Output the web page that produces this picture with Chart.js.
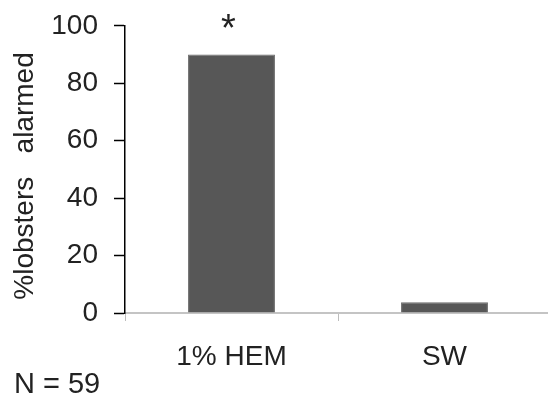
<!DOCTYPE html>
<html>
<head>
<meta charset="utf-8">
<script src="https://cdn.jsdelivr.net/npm/chart.js@4/dist/chart.umd.min.js"></script>
<style>
  html, body { margin: 0; padding: 0; background: #fff; overflow: hidden; }
  #wrap { width: 552px; height: 402px; }
</style>
</head>
<body>
<div id="wrap"><canvas id="lobsterChart" width="552" height="402"></canvas></div>
<script>
// data
const categories = ["1% HEM", "SW"];
const pctAlarmed = [90, 3.7];
const yTicks = [0, 20, 40, 60, 80, 100];
const yTitle = "%lobsters   alarmed";
const sampleNote = "N = 59";
const sigMarks = ["*", ""];

const textColor = "#222222";
const fontFamily = "'Liberation Sans', Arial, sans-serif";

// extra text: y title, N note, asterisk
const annotations = {
    id: "annotations",
    afterDraw(chart) {
        const ctx = chart.ctx;
        const xs = chart.scales.x;
        const ys = chart.scales.y;
        ctx.save();
        ctx.fillStyle = textColor;

        // rotated y title
        ctx.font = "28px " + fontFamily;
        ctx.translate(33, 176);
        ctx.rotate(-Math.PI / 2);
        ctx.textAlign = "center";
        ctx.textBaseline = "alphabetic";
        ctx.fillText(yTitle, 0, 0);
        ctx.setTransform(1, 0, 0, 1, 0, 0);

        // N note
        ctx.font = "29px " + fontFamily;
        ctx.textAlign = "left";
        ctx.fillText(sampleNote, 14, 393);

        // significance marks
        ctx.font = "38px " + fontFamily;
        ctx.textAlign = "center";
        sigMarks.forEach((m, i) => {
            if (!m) return;
            const x = xs.getPixelForValue(i) - 3;
            const y = ys.getPixelForValue(pctAlarmed[i]) - 14;
            ctx.fillText(m, x, y);
        });
        ctx.restore();
    }
};

let ctx1 = document.getElementById("lobsterChart");
let myChart = new Chart(ctx1, {
    type: "bar",
    data: {
        labels: categories,
        datasets: [
            {
                data: pctAlarmed,
                backgroundColor: "#575757",
                borderColor: "#6a6a6a",
                borderWidth: 1,
                barPercentage: 0.408,
                categoryPercentage: 1,
            },
        ],
    },
    options: {
        responsive: false,
        animation: false,
        events: [],
        layout: {
            padding: { top: 25, right: 1, left: 0, bottom: 0 },
        },
        plugins: {
            legend: { display: false },
            tooltip: { enabled: false },
        },
        scales: {
            x: {
                grid: {
                    offset: true,
                    drawOnChartArea: false,
                    tickLength: 8,
                    tickColor: "#bdbdbd",
                    tickWidth: 1,
                },
                border: { color: "#c4c4c4", width: 2 },
                ticks: {
                    color: textColor,
                    font: { size: 28, family: fontFamily },
                    padding: 19,
                    maxRotation: 0,
                },
                afterFit: (scale) => { scale.height = 89; },
            },
            y: {
                min: 0,
                max: 100,
                afterBuildTicks: (scale) => {
                    scale.ticks = yTicks.map((v) => ({ value: v }));
                },
                grid: {
                    drawOnChartArea: false,
                    tickLength: 11,
                    tickColor: "#000000",
                    tickWidth: 1.5,
                },
                border: { color: "#000000", width: 1.5 },
                ticks: {
                    color: textColor,
                    font: { size: 28, family: fontFamily, lineHeight: 0.7 },
                    padding: 16,
                },
                afterFit: (scale) => { scale.width = 125; },
            },
        },
    },
    plugins: [annotations],
});
</script>
</body>
</html>
